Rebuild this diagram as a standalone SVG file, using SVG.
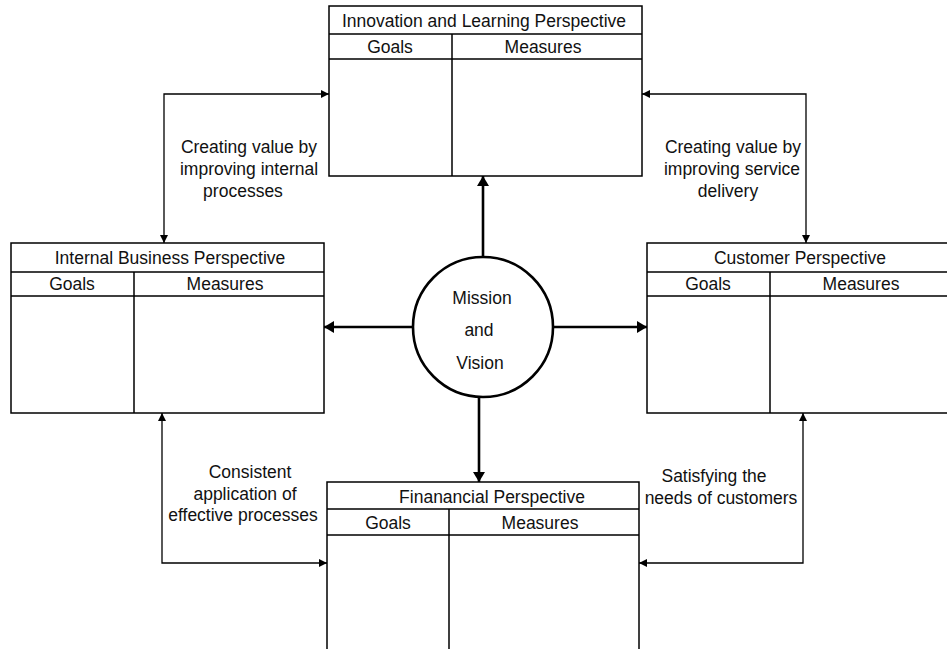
<svg xmlns="http://www.w3.org/2000/svg" width="947" height="649" viewBox="0 0 947 649">
  <style>
    .box { fill: #ffffff; stroke: #000000; stroke-width: 1.5; }
    .rule { stroke: #000000; stroke-width: 1.5; fill: none; }
    text { font-family: "Liberation Sans", Arial, sans-serif; font-size: 17.5px; fill: #111111; }
    .c { text-anchor: middle; }
    .thin { stroke: #000000; stroke-width: 1.3; fill: none; marker-start: url(#tipS); marker-end: url(#tipS); }
    .thick { stroke: #000000; stroke-width: 2.6; fill: none; marker-end: url(#tipL); }
  </style>
  <defs>
    <marker id="tipS" viewBox="0 0 8 8" refX="8" refY="4" markerWidth="8" markerHeight="8" markerUnits="userSpaceOnUse" orient="auto-start-reverse">
      <path d="M0,0 L8,4 L0,8 Z" fill="#000000"/>
    </marker>
    <marker id="tipL" viewBox="0 0 10 12" refX="10" refY="6" markerWidth="10" markerHeight="12" markerUnits="userSpaceOnUse" orient="auto">
      <path d="M0,0 L10,6 L0,12 Z" fill="#000000"/>
    </marker>
  </defs>
  <rect width="947" height="649" fill="#ffffff"/>

  <g id="connectors">
    <!-- links between the four perspective tables -->
    <path class="thin" d="M164,243 V94 H329"/>
    <path class="thin" d="M642,94 H806 V243"/>
    <path class="thin" d="M162,413 V563 H327"/>
    <path class="thin" d="M803,413 V563 H639"/>
    <!-- spokes from the mission circle -->
    <path class="thick" d="M483,257 V176"/>
    <path class="thick" d="M553,327 H647"/>
    <path class="thick" d="M479,397 V482"/>
    <path class="thick" d="M413,327 H324"/>
  </g>

  <g id="innovation">
    <rect class="box" x="329" y="6" width="313" height="170"/>
    <path class="rule" d="M329,34 H642 M329,59 H642 M452,34 V176"/>
    <text class="c" x="484" y="27">Innovation and Learning Perspective</text>
    <text class="c" x="390" y="53">Goals</text>
    <text class="c" x="543" y="53">Measures</text>
  </g>

  <g id="internal">
    <rect class="box" x="11" y="243" width="313" height="170"/>
    <path class="rule" d="M11,272 H324 M11,296 H324 M134,272 V413"/>
    <text class="c" x="170" y="264">Internal Business Perspective</text>
    <text class="c" x="72" y="290">Goals</text>
    <text class="c" x="225" y="290">Measures</text>
  </g>

  <g id="customer">
    <rect class="box" x="647" y="243" width="310" height="170"/>
    <path class="rule" d="M647,272 H957 M647,296 H957 M770,272 V413"/>
    <text class="c" x="800" y="264">Customer Perspective</text>
    <text class="c" x="708" y="290">Goals</text>
    <text class="c" x="861" y="290">Measures</text>
  </g>

  <g id="financial">
    <rect class="box" x="327" y="482" width="312" height="180"/>
    <path class="rule" d="M327,509 H639 M327,535 H639 M449,509 V662"/>
    <text class="c" x="492" y="503">Finanancial Perspective</text>
    <text class="c" x="388" y="529">Goals</text>
    <text class="c" x="540" y="529">Measures</text>
  </g>

  <g id="mission">
    <circle cx="483" cy="327" r="70" fill="#ffffff" stroke="#000000" stroke-width="2.6"/>
    <text class="c" x="482" y="304">Mission</text>
    <text class="c" x="479" y="336">and</text>
    <text class="c" x="480" y="369">Vision</text>
  </g>

  <g id="labels">
    <text class="c" x="249" y="153">Creating value by</text>
    <text class="c" x="249" y="175">improving internal</text>
    <text class="c" x="243" y="197">processes</text>

    <text class="c" x="733" y="153">Creating value by</text>
    <text class="c" x="732" y="175">improving service</text>
    <text class="c" x="728" y="197">delivery</text>

    <text class="c" x="250" y="478">Consistent</text>
    <text class="c" x="245" y="500">application of</text>
    <text class="c" x="243" y="521">effective processes</text>

    <text class="c" x="714" y="482">Satisfying the</text>
    <text class="c" x="721" y="504">needs of customers</text>
  </g>
</svg>
